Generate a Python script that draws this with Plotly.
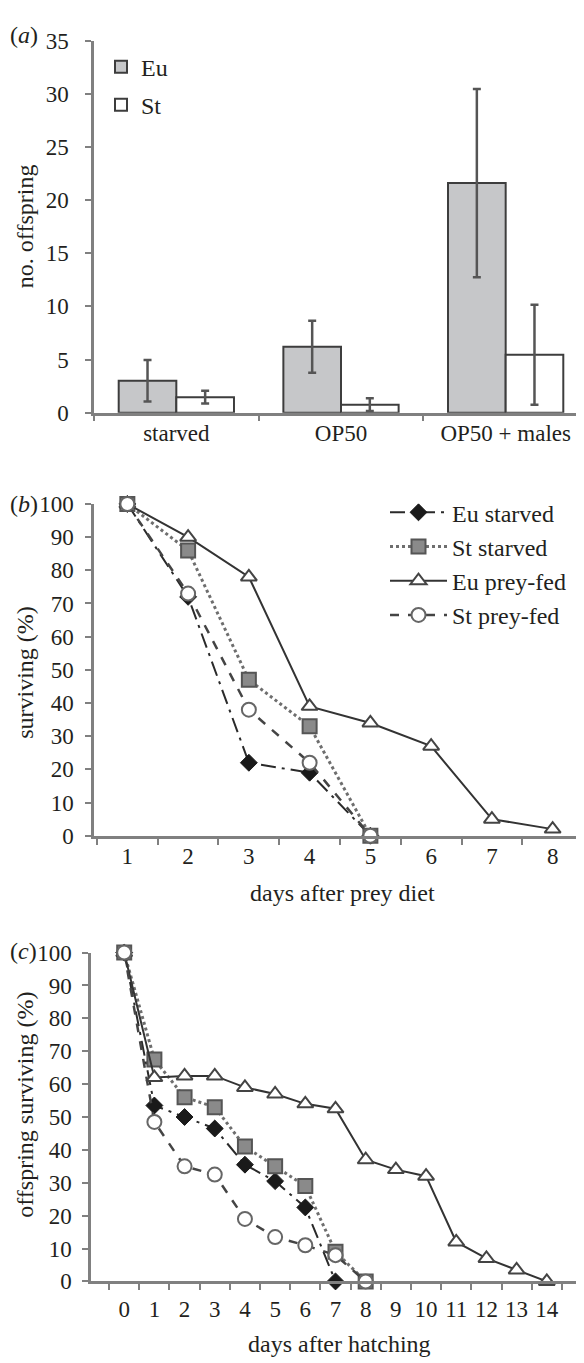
import plotly.graph_objects as go

# ---------- data ----------
treatments = ["starved", "OP50", "OP50 + males"]
eu_offspring = [3.0, 6.2, 21.6]
eu_offspring_err = [1.95, 2.45, 8.85]
st_offspring = [1.45, 0.75, 5.45]
st_offspring_err = [0.6, 0.6, 4.7]

days_b = ["1", "2", "3", "4", "5", "6", "7", "8"]
b_eu_starved = [100, 72, 22, 19, 0]
b_st_starved = [100, 86, 47, 33, 0]
b_eu_prey = [100, 90, 78, 39, 34, 27, 5, 2]
b_st_prey = [100, 73, 38, 22, 0]

days_c = ["0", "1", "2", "3", "4", "5", "6", "7", "8", "9", "10", "11", "12", "13", "14"]
c_eu_starved = [100, 53.5, 50, 46.5, 35.5, 30.5, 22.5, 0]
c_st_starved = [100, 67.5, 56, 53, 41, 35, 29, 9, 0]
c_eu_prey = [100, 62, 62.5, 62.5, 59, 57, 54, 52.5, 37, 34, 32, 12, 7, 3.5, 0]
c_st_prey = [100, 48.5, 35, 32.5, 19, 13.5, 11, 8, 0]

W, H = 584, 1363
FONT = "Liberation Serif, Times New Roman, serif"
TXT = "#231f20"
AX = "#808080"

def py(p):  # pixel row -> paper y
    return 1 - p / H

def px(p):
    return p / W

fig = go.Figure()

# ---------- panel (a) ----------
fig.add_trace(go.Bar(
    x=treatments, y=eu_offspring, name="Eu", xaxis="x", yaxis="y",
    marker=dict(color="#c6c7c9", line=dict(color="#3d3d3d", width=2)),
    error_y=dict(type="data", array=eu_offspring_err, color="#555555", thickness=2.5, width=4),
    legend="legend", legendgroup="a1"))
fig.add_trace(go.Bar(
    x=treatments, y=st_offspring, name="St", xaxis="x", yaxis="y",
    marker=dict(color="#ffffff", line=dict(color="#3d3d3d", width=2)),
    error_y=dict(type="data", array=st_offspring_err, color="#555555", thickness=2.5, width=4),
    legend="legend", legendgroup="a2"))

# ---------- line styles ----------
styles = {
    "Eu starved": dict(line=dict(color="#2a2a2a", width=2, dash="longdashdot"),
                       marker=dict(symbol="diamond", size=13, color="#1a1a1a", line=dict(color="#1a1a1a", width=1))),
    "St starved": dict(line=dict(color="#6e6e6e", width=3, dash="dot"),
                       marker=dict(symbol="square", size=14, color="#8a8a8a", line=dict(color="#555555", width=2))),
    "Eu prey-fed": dict(line=dict(color="#333333", width=2, dash="solid"),
                        marker=dict(symbol="triangle-up", size=14, color="#ffffff", line=dict(color="#444444", width=2))),
    "St prey-fed": dict(line=dict(color="#444444", width=2.5, dash="dash"),
                        marker=dict(symbol="circle", size=14, color="#ffffff", line=dict(color="#666666", width=2))),
}

b_series = [("Eu starved", b_eu_starved), ("St starved", b_st_starved),
            ("Eu prey-fed", b_eu_prey), ("St prey-fed", b_st_prey)]
for i, (name, vals) in enumerate(b_series):
    fig.add_trace(go.Scatter(
        x=days_b[:len(vals)], y=vals, name=name, mode="lines+markers",
        xaxis="x2", yaxis="y2", cliponaxis=False, legend="legend2",
        legendgroup="b%d" % i, **styles[name]))

c_series = [("Eu starved", c_eu_starved), ("St starved", c_st_starved),
            ("Eu prey-fed", c_eu_prey), ("St prey-fed", c_st_prey)]
for name, vals in c_series:
    fig.add_trace(go.Scatter(
        x=days_c[:len(vals)], y=vals, name=name, mode="lines+markers",
        xaxis="x3", yaxis="y3", cliponaxis=False, showlegend=False, **styles[name]))

tickfont = dict(family=FONT, size=23, color=TXT)

def xcat(domain, anchor, cats, standoff):
    return dict(domain=domain, anchor=anchor, type="category", categoryorder="array",
                categoryarray=cats, tickson="boundaries", ticks="outside", ticklen=6,
                tickwidth=2, tickcolor=AX, showline=True, linecolor=AX, linewidth=2.5,
                showgrid=False, zeroline=False, tickfont=tickfont, ticklabelstandoff=standoff,
                tickangle=0, fixedrange=True)

def ylin(domain, anchor, rng, dtick, standoff):
    return dict(domain=domain, anchor=anchor, range=rng, dtick=dtick, ticks="outside",
                ticklen=6, tickwidth=2, tickcolor=AX, showline=True, linecolor=AX,
                linewidth=2.5, showgrid=False, zeroline=False, tickfont=tickfont,
                ticklabelstandoff=standoff, fixedrange=True)

layout = dict(
    width=W, height=H, margin=dict(l=0, r=0, t=0, b=0),
    paper_bgcolor="white", plot_bgcolor="white",
    font=dict(family=FONT, size=24, color=TXT),
    barmode="group", bargap=0.3, bargroupgap=0,
    xaxis=xcat([px(86), px(580)], "y", treatments, -2),
    yaxis=ylin([py(400), py(21)], "x", [0, 35], 5, 12),
    xaxis2=xcat([px(86), px(578)], "y2", days_b, -2),
    yaxis2=ylin([py(831), py(493)], "x2", [0, 100], 10, 7),
    xaxis3=xcat([px(83), px(572)], "y3", days_c, 5),
    yaxis3=ylin([py(1285), py(950)], "x3", [0, 100], 10, 6),
    legend=dict(x=px(93), y=py(25), xanchor="left", yanchor="top",
                bgcolor="rgba(0,0,0,0)", font=dict(family=FONT, size=24, color=TXT),
                tracegroupgap=4, traceorder="grouped"),
    legend2=dict(x=px(377), y=py(479), xanchor="left", yanchor="top",
                 bgcolor="rgba(0,0,0,0)", font=dict(family=FONT, size=24, color=TXT),
                 itemwidth=57, tracegroupgap=0, traceorder="grouped"),
    showlegend=True,
)
fig.update_layout(**layout)

annos = [
    dict(text="(<i>a</i>)", x=0, y=py(15), xanchor="left", yanchor="middle"),
    dict(text="(<i>b</i>)", x=0, y=py(493), xanchor="left", yanchor="middle"),
    dict(text="(<i>c</i>)", x=0, y=py(948), xanchor="left", yanchor="middle"),
    dict(text="no. offspring", x=px(17), y=py(210), textangle=-90, xanchor="center", yanchor="middle"),
    dict(text="surviving (%)", x=px(17), y=py(665), textangle=-90, xanchor="center", yanchor="middle"),
    dict(text="offspring surviving (%)", x=px(17), y=py(1105), textangle=-90, xanchor="center", yanchor="middle"),
    dict(text="days after prey diet", x=px(334), y=py(889), xanchor="center", yanchor="middle"),
    dict(text="days after hatching", x=px(331), y=py(1349), xanchor="center", yanchor="middle"),
]
for a in annos:
    a.update(xref="paper", yref="paper", showarrow=False, font=dict(family=FONT, size=24, color=TXT))
fig.update_layout(annotations=annos)

fig.write_html("out.html")
